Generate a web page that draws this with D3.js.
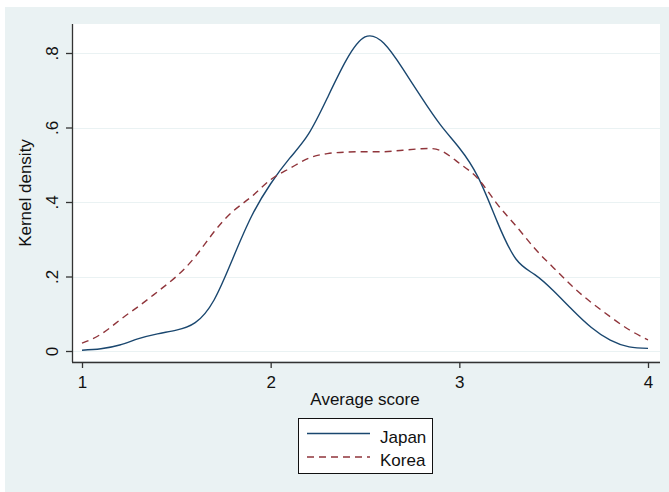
<!DOCTYPE html>
<html>
<head>
<meta charset="utf-8">
<script src="https://cdn.jsdelivr.net/npm/d3@7"></script>
<style>
  html, body { margin: 0; padding: 0; background: #ffffff; }
  svg { display: block; font-family: "Liberation Sans", Arial, Helvetica, sans-serif; }
</style>
</head>
<body>
<svg id="chart" width="669" height="492"></svg>
<script>
// Evaluation grid for the kernel density estimates (average score)
const scoreGrid = [1.0, 1.1, 1.2, 1.3, 1.4, 1.5, 1.6, 1.7, 1.8, 1.9,
                   2.0, 2.1, 2.2, 2.3, 2.4, 2.5, 2.6, 2.7, 2.8, 2.9,
                   3.0, 3.1, 3.2, 3.3, 3.4, 3.5, 3.6, 3.7, 3.8, 3.9, 4.0];

const japanDensity = [0.002, 0.006, 0.016, 0.033, 0.046, 0.056, 0.076, 0.137, 0.249, 0.363,
                      0.449, 0.517, 0.582, 0.679, 0.780, 0.843, 0.826, 0.758, 0.680, 0.607,
                      0.545, 0.466, 0.348, 0.247, 0.205, 0.161, 0.110, 0.063, 0.029, 0.011, 0.007];

const koreaDensity = [0.021, 0.045, 0.083, 0.120, 0.159, 0.200, 0.253, 0.320, 0.375, 0.415,
                      0.460, 0.490, 0.517, 0.530, 0.534, 0.535, 0.535, 0.539, 0.543, 0.538,
                      0.504, 0.462, 0.395, 0.336, 0.275, 0.223, 0.173, 0.130, 0.092, 0.057, 0.030];

const xTicks = [1, 2, 3, 4];
const xTickLabels = ["1", "2", "3", "4"];
const yTicks = [0, 0.2, 0.4, 0.6, 0.8];
const yTickLabels = ["0", ".2", ".4", ".6", ".8"];

const seriesNames = ["Japan", "Korea"];

const svg = d3.select("#chart");
const bg = "#eaf2f3";
const fontSize = 17;

// Outer graph region
svg.append("rect").attr("x", 5).attr("y", 7).attr("width", 664).attr("height", 485).attr("fill", bg);

// Plot region
const plot = { left: 72, right: 660, top: 24, bottom: 362 };
svg.append("rect")
  .attr("x", plot.left).attr("y", plot.top)
  .attr("width", plot.right - plot.left).attr("height", plot.bottom - 1 - plot.top)
  .attr("fill", "#ffffff");

const x = d3.scaleLinear().domain([1, 4]).range([82, 648]);
const y = d3.scaleLinear().domain([0, 0.8]).range([351, 53]);

// Horizontal grid lines
svg.append("g").selectAll("line").data(yTicks).join("line")
  .attr("x1", plot.left + 1).attr("x2", plot.right)
  .attr("y1", d => Math.round(y(d)) + 0.5).attr("y2", d => Math.round(y(d)) + 0.5)
  .attr("stroke", bg).attr("stroke-width", 1.2);

// Y axis
const yAxis = d3.axisLeft(y).tickValues(yTicks).tickSize(6)
  .tickFormat((d, i) => yTickLabels[i]);
const gy = svg.append("g").attr("transform", `translate(${plot.left},0)`).call(yAxis);
gy.select(".domain").attr("d", `M0.5,${plot.top}V${plot.bottom}`).attr("stroke", "#333").attr("stroke-width", 1.3);
gy.selectAll(".tick line").attr("stroke", "#333").attr("stroke-width", 1.3);
gy.selectAll(".tick text")
  .attr("font-size", fontSize).attr("fill", "#111")
  .attr("text-anchor", "middle")
  .attr("x", null).attr("dy", null)
  .attr("transform", "translate(-14,0) rotate(-90)")
  .attr("y", 0);

// X axis
const xAxis = d3.axisBottom(x).tickValues(xTicks).tickSize(6)
  .tickFormat((d, i) => xTickLabels[i]);
const gx = svg.append("g").attr("transform", `translate(0,${plot.bottom})`).call(xAxis);
gx.select(".domain").attr("d", `M${plot.left},0.5H${plot.right}`).attr("stroke", "#333").attr("stroke-width", 1.3);
gx.selectAll(".tick line").attr("stroke", "#333").attr("stroke-width", 1.3);
gx.selectAll(".tick text")
  .attr("font-size", fontSize).attr("fill", "#111")
  .attr("dy", null).attr("y", 26);

// Axis titles
svg.append("text").attr("x", 365).attr("y", 405)
  .attr("text-anchor", "middle").attr("font-size", fontSize).attr("fill", "#111")
  .text("Average score");
svg.append("text")
  .attr("transform", "translate(31,193) rotate(-90)")
  .attr("text-anchor", "middle").attr("font-size", fontSize).attr("fill", "#111")
  .text("Kernel density");

// Density curves, drawn as smooth splines through the evaluation grid
const line = d3.line()
  .x((d, i) => x(scoreGrid[i]))
  .y(d => y(d))
  .curve(d3.curveNatural);

const styles = [
  { color: "#1a476f", dash: null },
  { color: "#90353b", dash: "7,5" }
];

[japanDensity, koreaDensity].forEach((vals, k) => {
  svg.append("path")
    .attr("d", line(vals))
    .attr("fill", "none")
    .attr("stroke", styles[k].color)
    .attr("stroke-width", 1.4)
    .attr("stroke-dasharray", styles[k].dash);
});

// Legend
const lg = svg.append("g");
lg.append("rect").attr("x", 298.5).attr("y", 418.5).attr("width", 134).attr("height", 55)
  .attr("fill", "#ffffff").attr("stroke", "#111").attr("stroke-width", 1);
const legendY = [433.5, 457];
seriesNames.forEach((name, k) => {
  lg.append("line")
    .attr("x1", 307).attr("x2", 370)
    .attr("y1", legendY[k]).attr("y2", legendY[k])
    .attr("stroke", styles[k].color).attr("stroke-width", 1.4)
    .attr("stroke-dasharray", styles[k].dash);
  lg.append("text")
    .attr("x", 380).attr("y", legendY[k] + 9)
    .attr("font-size", fontSize).attr("fill", "#111")
    .text(name);
});
</script>
</body>
</html>
